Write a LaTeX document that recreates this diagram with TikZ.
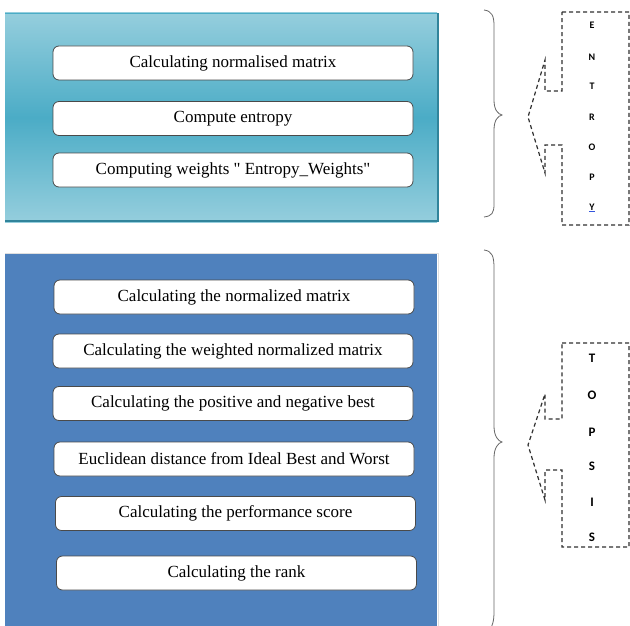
\documentclass[tikz,border=0pt]{standalone}
\usepackage{fontspec}
\setmainfont{Liberation Serif}[Ligatures=TeXOff]
\newfontfamily\letterfont{Carlito}
\definecolor{tealLight}{HTML}{95CEDD}
\definecolor{tealMid}{HTML}{4BACC6}
\definecolor{tealDark}{HTML}{31849B}
\definecolor{panelBlue}{HTML}{4F81BD}
\definecolor{boxLine}{HTML}{4A4A4A}
\definecolor{dashLine}{HTML}{303030}
\definecolor{linkBlue}{HTML}{3355DD}
\tikzset{
  stepbox/.style={draw=boxLine, line width=0.8pt, fill=white, rounded corners=6pt,
    minimum width=360pt, minimum height=34pt, inner sep=0pt,
    font=\fontsize{17}{19}\selectfont},
  callout/.style={draw=dashLine, line width=1.2pt, dash pattern=on 4pt off 3pt},
  bracestyle/.style={draw=gray!80!black, line width=0.8pt},
  smallletter/.style={font=\letterfont\bfseries\fontsize{10}{11}\selectfont, inner sep=0pt},
  bigletter/.style={font=\letterfont\bfseries\fontsize{13}{14}\selectfont, inner sep=0pt}
}
\begin{document}
\begin{tikzpicture}[x=1pt,y=-1pt]
\useasboundingbox (0,0) rectangle (630,626);
% top panel with gradient
\shade[top color=tealLight, bottom color=tealLight, middle color=tealMid] (5,13) rectangle (437,222);
\draw[tealMid, line width=0.6pt] (5,13) -- (437,13);
\draw[tealDark, line width=2pt] (5,221) -- (438,221) -- (438,13);
% boxes of top panel
\node[stepbox] (e1) at (233,63) {Calculating normalised matrix};
\node[stepbox] (e2) at (233,118.5) {Compute entropy};
\node[stepbox] (e3) at (233,170) {Computing weights " Entropy\_Weights"};
% bottom panel
\fill[panelBlue] (5,253) rectangle (437,626);
\draw[gray!25, line width=1pt] (5,253) -- (438,253) -- (438,626);
\node[stepbox] (t1) at (234,297) {Calculating the normalized matrix};
\node[stepbox] (t2) at (233,351) {Calculating the weighted normalized matrix};
\node[stepbox] (t3) at (233,403.5) {Calculating the positive and negative best};
\node[stepbox] (t4) at (234,459) {Euclidean distance from Ideal Best and Worst};
\node[stepbox] (t5) at (235.5,513.5) {Calculating the performance score};
\node[stepbox] (t6) at (236.5,573) {Calculating the rank};
% braces
\draw[bracestyle] (484,10) .. controls (492,11) and (494,16) .. (494,26)
  -- (494,100) .. controls (494,110) and (498,114) .. (502,115)
  .. controls (498,116) and (494,120) .. (494,130)
  -- (494,204) .. controls (494,213) and (492,216) .. (484,217);
\draw[bracestyle] (484,250) .. controls (492,251) and (494,256) .. (494,268)
  -- (494,426) .. controls (494,436) and (498,441) .. (502,442)
  .. controls (498,443) and (494,448) .. (494,458)
  -- (494,612) .. controls (494,622) and (492,626) .. (490,630);
% entropy callout
\draw[callout] (562,12) -- (629,12) -- (629,225) -- (562,225) -- (562,145) -- (545,145)
  -- (545,173) -- (528,117) -- (545,60) -- (545,91) -- (562,91) -- cycle;
\node[smallletter] (le) at (592,25) {E};
\node[smallletter] (ln) at (592,57) {N};
\node[smallletter] (lt) at (592,86) {T};
\node[smallletter] (lr) at (592,117) {R};
\node[smallletter] (lo) at (592,147) {O};
\node[smallletter] (lp) at (592,177) {P};
\node[smallletter] (ly) at (592,207) {Y};
\draw[linkBlue, line width=0.7pt] ([yshift=-1.2pt]ly.south west) -- ([yshift=-1.2pt]ly.south east);
% topsis callout
\draw[callout] (562,343) -- (629,343) -- (629,547) -- (562,547) -- (562,470) -- (545,470)
  -- (545,500) -- (528,445) -- (545,394) -- (545,419) -- (562,419) -- cycle;
\node[bigletter] (mt) at (592,358) {T};
\node[bigletter] (mo) at (592,395) {O};
\node[bigletter] (mp) at (592,432) {P};
\node[bigletter] (ms) at (592,466) {S};
\node[bigletter] (mi) at (592,502) {I};
\node[bigletter] (ms2) at (592,537) {S};
\end{tikzpicture}
\end{document}
